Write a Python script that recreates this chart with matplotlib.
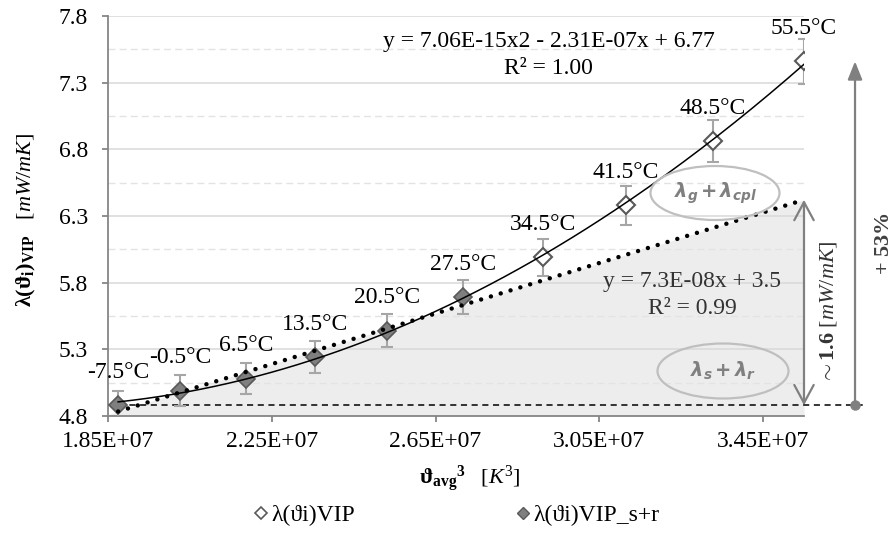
import numpy as np
import matplotlib
matplotlib.use("Agg")
import matplotlib.pyplot as plt
from matplotlib.patches import Ellipse
from matplotlib.lines import Line2D
from matplotlib.ticker import FixedLocator, FuncFormatter
import matplotlib.transforms as mtransforms

plt.rcParams['font.family'] = ['Liberation Serif', 'DejaVu Serif']
plt.rcParams['mathtext.fontset'] = 'custom'
plt.rcParams['mathtext.rm'] = 'Liberation Serif'
plt.rcParams['mathtext.it'] = 'Liberation Serif:italic'
plt.rcParams['mathtext.bf'] = 'Liberation Serif:bold'
plt.rcParams['mathtext.sf'] = 'DejaVu Sans:bold:oblique'

# ---- data ----
temps_label = ["-7.5°C", "-0.5°C", "6.5°C", "13.5°C", "20.5°C", "27.5°C",
               "34.5°C", "41.5°C", "48.5°C", "55.5°C"]
x_T3 = [1.8747e7, 2.0268e7, 2.1870e7, 2.3554e7, 2.5322e7, 2.7176e7,
        2.9119e7, 3.1152e7, 3.3277e7, 3.5498e7]
lam_vip = [4.88, 4.99, 5.08, 5.24, 5.44, 5.69, 5.99, 6.38, 6.86, 7.46]
lam_err = [0.11, 0.115, 0.117, 0.12, 0.125, 0.128, 0.138, 0.145, 0.157, 0.167]
n_sr = 6  # first points belong to series VIP_s+r

x_ticks = [1.85e7, 2.25e7, 2.65e7, 3.05e7, 3.45e7]
y_ticks = [4.8, 5.3, 5.8, 6.3, 6.8, 7.3, 7.8]
y_minor = [5.05, 5.55, 6.05, 6.55, 7.05, 7.55]
xlim = (1.85e7, 3.55e7)
ylim = (4.8, 7.8)

eq_poly = "y = 7.06E-15x2 - 2.31E-07x + 6.77"
r2_poly = "R² = 1.00"
eq_lin = "y = 7.3E-08x + 3.5"
r2_lin = "R² = 0.99"
leg_labels = ["λ(ϑi)VIP", "λ(ϑi)VIP_s+r"]

x = np.array(x_T3)
y = np.array(lam_vip)
e = np.array(lam_err)

W, H = 895, 534
fig = plt.figure(figsize=(W / 100, H / 100), dpi=100)

def fx(px):
    return px / W

def fy(py):
    return 1 - py / H

FS = 17

ax = fig.add_axes([fx(108), fy(416), (804 - 108) / W, (416 - 16) / H])
ax.set_xlim(*xlim)
ax.set_ylim(*ylim)

spine_c = '#868686'
for s in ['top', 'right']:
    ax.spines[s].set_visible(False)
for s in ['left', 'bottom']:
    ax.spines[s].set_color(spine_c)
    ax.spines[s].set_linewidth(1.3)
ax.xaxis.set_major_locator(FixedLocator(x_ticks))
ax.xaxis.set_major_formatter(FuncFormatter(lambda v, p: '%.2E' % v))
ax.yaxis.set_major_locator(FixedLocator(y_ticks))
ax.yaxis.set_major_formatter(FuncFormatter(lambda v, p: '%.1f' % v))
ax.yaxis.set_minor_locator(FixedLocator(y_minor))
ax.tick_params(axis='both', which='major', direction='out', length=4.5,
               width=1.3, color=spine_c, labelsize=FS)
ax.tick_params(axis='y', which='major', pad=10)
ax.tick_params(axis='x', which='major', pad=6)
ax.tick_params(axis='y', which='minor', length=0)
ax.set_axisbelow(True)
ax.grid(axis='y', which='major', color='#d9d9d9', lw=1.1, ls='-')
ax.grid(axis='y', which='minor', color='#e3e3e3', lw=1.0, ls=(0, (5, 3)))

# linear trend of s+r series
cl = np.polyfit(x[:n_sr], y[:n_sr], 1)
xf = np.linspace(xlim[0], xlim[1], 100)
ax.fill_between(xf, np.polyval(cl, xf), ylim[0], color='#ededed', lw=0, zorder=0.2)

base = y[0]
trans_bl = mtransforms.blended_transform_factory(ax.transAxes, ax.transData)
ax.plot([0, 1.089], [base, base], color='black', lw=1.1, ls=(0, (4, 3)),
        transform=trans_bl, clip_on=False, zorder=2)

# error bars
ax.errorbar(x, y, yerr=e, fmt='none', ecolor='#a6a6a6', elinewidth=1.5,
            capsize=4.3, capthick=1.5, zorder=3)
# markers
ax.plot(x[n_sr:], y[n_sr:], ls='none', marker='D', ms=9.5, mfc='white',
        mec='#595959', mew=1.5, zorder=4)
ax.plot(x[:n_sr], y[:n_sr], ls='none', marker='D', ms=9.5, mfc='#7f7f7f',
        mec='#595959', mew=1.2, zorder=4)

# polynomial trend (all)
cp = np.polyfit(x, y, 2)
xp = np.linspace(x[0], x[-1], 200)
ax.plot(xp, np.polyval(cp, xp), color='black', lw=1.1, zorder=5)
# linear trend dotted extended
xl = np.linspace(x[0], xlim[1], 100)
ax.plot(xl, np.polyval(cl, xl), color='black', lw=3.2,
        ls=(0, (0.01, 2.3)), dash_capstyle='round', zorder=5)

# temperature labels
for xi, yi, t in zip(x, y, temps_label):
    ax.annotate(t, (xi, yi), xytext=(0, 24), textcoords='offset points',
                ha='center', va='center', fontsize=FS, zorder=6)

# trend equations
fig.text(fx(549), fy(42), eq_poly, ha='center', va='center', fontsize=FS)
fig.text(fx(548), fy(68), r2_poly, ha='center', va='center', fontsize=FS)
fig.text(fx(692), fy(282), eq_lin, ha='center', va='center', fontsize=FS, color='#333333')
fig.text(fx(692), fy(309), r2_lin, ha='center', va='center', fontsize=FS, color='#333333')

# ellipses
for (cx, cy, w, h, lab) in [((715 - 108) / 696, (416 - 193) / 400, 129 / 696, 54 / 400,
                              r'$\mathsf{\lambda_g + \lambda_{cpl}}$'),
                             ((723 - 108) / 696, (416 - 371) / 400, 131 / 696, 55 / 400,
                              r'$\mathsf{\lambda_s + \lambda_r}$')]:
    ax.add_patch(Ellipse((cx, cy), w, h, transform=ax.transAxes, fill=False,
                         ec='#bfbfbf', lw=1.6, zorder=6, clip_on=False))
    ax.text(cx, cy, lab, transform=ax.transAxes, ha='center', va='center',
            fontsize=14, color='#808080', zorder=7)

# ~1.6 arrow
y_end = np.polyval(cl, xlim[1])
ax.annotate('', xy=(xlim[1], y_end), xytext=(xlim[1], base),
            arrowprops=dict(arrowstyle='<->,head_length=0.65,head_width=0.35',
                            color='#808080', lw=1.6, mutation_scale=20,
                            shrinkA=0, shrinkB=0),
            annotation_clip=False, zorder=6)
fig.text(fx(829), fy(312), r'$\mathbf{\sim 1.6}\ \mathit{[mW/mK]}$', rotation=90,
         ha='center', va='center', fontsize=16, color='#333333')

# +53% arrow
ax.annotate('', xy=(1.0733, y[-1]), xytext=(1.0733, base), xycoords=trans_bl,
            textcoords=trans_bl,
            arrowprops=dict(arrowstyle='-|>,head_length=0.55,head_width=0.22',
                            color='#808080', lw=1.6, mutation_scale=20,
                            shrinkA=0, shrinkB=0),
            annotation_clip=False, zorder=6)
ax.plot([1.0733], [base], marker='o', ms=6.5, color='#808080', transform=trans_bl,
        clip_on=False, zorder=7)
fig.text(fx(885), fy(244), r'$\mathbf{+\ 53\%}$', rotation=90, ha='center', va='center',
         fontsize=16, color='#404040')

# axis labels
fig.text(fx(26), fy(220), r'$\mathbf{\lambda(\vartheta_i)_{VIP}}\ \ \ \mathit{[mW/mK]}$',
         rotation=90, ha='center', va='center', fontsize=16)
fig.text(fx(470), fy(479), r'$\mathbf{\vartheta_{avg}}{}^{\mathbf{3}}\ \ \ \mathit{[K^3]}$',
         ha='center', va='center', fontsize=16)

# legend
h1 = Line2D([], [], ls='none', marker='D', ms=6.5, mfc='white', mec='#595959', mew=1.2)
h2 = Line2D([], [], ls='none', marker='D', ms=6.5, mfc='#7f7f7f', mec='#595959', mew=1.0)
fig.legend([h1, h2], leg_labels, loc='center', bbox_to_anchor=(fx(457), fy(515)),
           ncol=2, frameon=False, fontsize=FS, handlelength=0.6,
           handletextpad=0.15, columnspacing=6.8, borderpad=0, borderaxespad=0)

fig.savefig('out.png', dpi=100)
